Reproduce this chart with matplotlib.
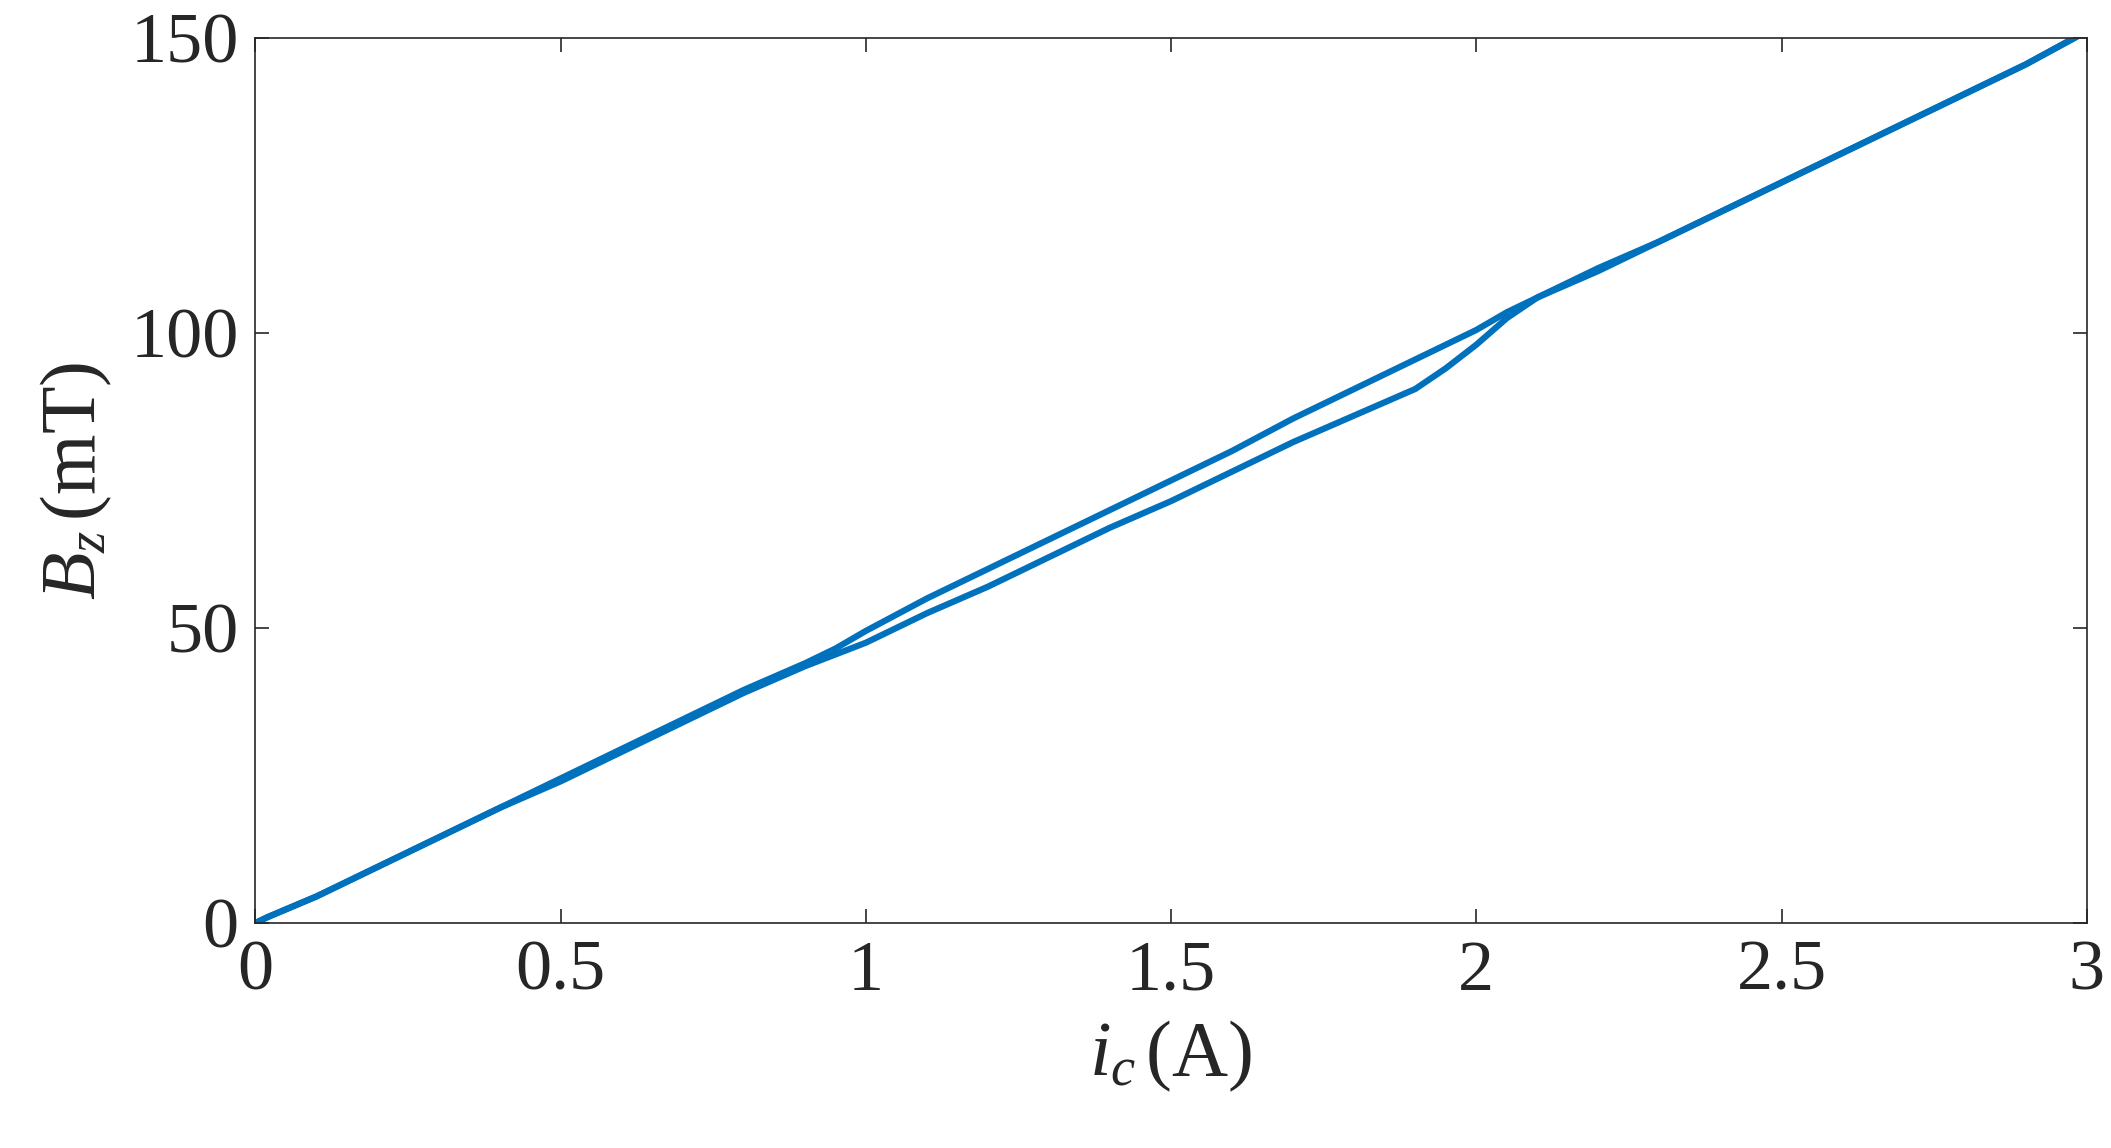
import matplotlib
matplotlib.use("Agg")
import matplotlib.pyplot as plt

# rising branch
i_up = [0.0, 0.02, 0.1, 0.2, 0.3, 0.4, 0.5, 0.6, 0.7, 0.8, 0.9, 0.95, 1.0, 1.1, 1.2, 1.3, 1.4, 1.5,
        1.6, 1.7, 1.8, 1.9, 1.95, 2.0, 2.05, 2.1, 2.2, 2.3, 2.4, 2.5, 2.6, 2.7, 2.8, 2.9, 2.98]
b_up = [0.0, 1.0, 4.5, 9.5, 14.5, 19.5, 24.0, 29.0, 34.0, 39.0, 43.5, 45.5, 47.5, 52.5, 57.0, 62.0, 67.0, 71.5,
        76.5, 81.5, 86.0, 90.5, 94.0, 98.0, 102.5, 106.0, 110.5, 115.5, 120.5, 125.5, 130.5, 135.5, 140.5, 145.5, 150.0]
# falling branch
i_dn = [2.98, 2.9, 2.8, 2.7, 2.6, 2.5, 2.4, 2.3, 2.2, 2.1, 2.05, 2.0, 1.9, 1.8, 1.7, 1.6, 1.5, 1.4,
        1.3, 1.2, 1.1, 1.0, 0.95, 0.9, 0.8, 0.7, 0.6, 0.5, 0.4, 0.3, 0.2, 0.1, 0.02, 0.0]
b_dn = [150.0, 145.5, 140.5, 135.5, 130.5, 125.5, 120.5, 115.5, 111.0, 106.0, 103.5, 100.5, 95.5, 90.5, 85.5, 80.0, 75.0, 70.0,
        65.0, 60.0, 55.0, 49.5, 46.5, 44.0, 39.5, 34.5, 29.5, 24.5, 19.5, 14.5, 9.5, 4.5, 1.0, 0.0]

plt.rcParams['font.family'] = ['Liberation Serif', 'DejaVu Serif']
plt.rcParams['mathtext.fontset'] = 'custom'
plt.rcParams['mathtext.it'] = 'Liberation Serif:italic'
plt.rcParams['mathtext.rm'] = 'Liberation Serif'
fig = plt.figure(figsize=(21.11, 11.48), dpi=100)
ax = fig.add_axes([0.121, 0.196, 0.8675, 0.771])
ax.plot(i_up, b_up, color='#0072BD', lw=4.5)
ax.plot(i_dn, b_dn, color='#0072BD', lw=4.5)
ax.set_xlim(0, 3)
ax.set_ylim(0, 150)
ax.set_xticks([0, 0.5, 1, 1.5, 2, 2.5, 3])
ax.set_xticklabels(['0', '0.5', '1', '1.5', '2', '2.5', '3'])
ax.set_yticks([0, 50, 100, 150])
ax.tick_params(labelsize=52, direction='in', length=10, width=1.2, top=True, right=True, pad=12, colors='#262626')
for s in ax.spines.values():
    s.set_linewidth(1.2)
    s.set_color('#262626')
ax.set_xlabel(r'$i_{c}\,$(A)', fontsize=56, color='#262626', labelpad=10)
ax.set_ylabel(r'$B_{z}\,$(mT)', fontsize=56, color='#262626', labelpad=12)
fig.savefig('out.png', dpi=100)
